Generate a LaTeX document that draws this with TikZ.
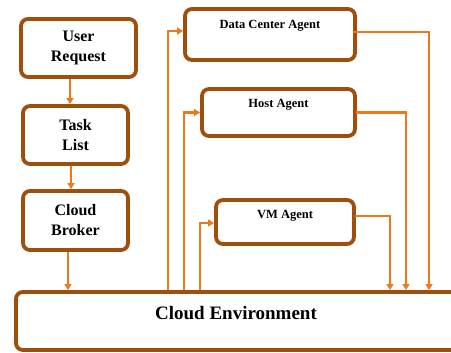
\documentclass[tikz,border=0pt]{standalone}
\usepackage{fontspec}
\setmainfont{Liberation Serif}
\usetikzlibrary{arrows.meta}
\definecolor{boxbrown}{HTML}{A04E0C}
\definecolor{lineorange}{HTML}{EC7A1C}
\tikzset{
  box/.style={draw=boxbrown, line width=3.8pt, rounded corners=7pt, fill=white, inner sep=0pt},
  lefttext/.style={font=\bfseries\fontsize{16}{20}\selectfont, align=center, text=black},
  agenttext/.style={font=\bfseries\fontsize{12.5}{15}\selectfont, text=black},
  envtext/.style={font=\bfseries\fontsize{19}{23}\selectfont, text=black},
  arr/.style={draw=lineorange, line width=2.2pt, -{Triangle[length=6pt,width=7pt]}}
}
\begin{document}
\begin{tikzpicture}[x=1pt,y=1pt]
\useasboundingbox (0,0) rectangle (451,353);
\begin{scope}
\clip (0,0) rectangle (451,353);
% left column
\node[box, minimum width=115pt, minimum height=58pt, lefttext] (ur) at (78.5,305) {User\\Request};
\node[box, minimum width=105pt, minimum height=58pt, lefttext] (tl) at (75.5,218) {Task\\List};
\node[box, minimum width=105pt, minimum height=59pt, lefttext] (cb) at (75.5,132.5) {Cloud\\Broker};
% environment
\node[box, minimum width=480pt, minimum height=58pt, anchor=west] (ce) at (14,32) {};
\node[envtext] (cet) at (236,40) {Cloud Environment};
% agents
\node[box, minimum width=170pt, minimum height=51pt] (dc) at (270,318.5) {};
\node[agenttext] (dct) at (270,327) {Data Center Agent};
\node[box, minimum width=153pt, minimum height=47pt] (ha) at (278.5,240.5) {};
\node[agenttext] (hat) at (278.5,248) {Host Agent};
\node[box, minimum width=138pt, minimum height=44pt] (vm) at (285,131) {};
\node[agenttext] (vmt) at (285,137) {VM Agent};
% x positions of vertical connectors
\coordinate (x1) at (168,0);
\coordinate (x2) at (184,0);
\coordinate (x3) at (200,0);
\coordinate (x4) at (429,0);
\coordinate (x5) at (406,0);
\coordinate (x6) at (390,0);
% left chain
\draw[arr] ([xshift=-8.5pt]ur.south) -- ([xshift=-5.5pt]tl.north);
\draw[arr] ([xshift=-4.5pt]tl.south) -- ([xshift=-4.5pt]cb.north);
\draw[arr] ([xshift=-7.5pt]cb.south) -- ([xshift=-7.5pt]cb.south |- ce.north);
% environment to agents
\draw[arr] (x1 |- ce.north) |- ([yshift=3.5pt]dc.west);
\draw[arr] (x2 |- ce.north) |- (ha.west);
\draw[arr] (x3 |- ce.north) |- ([yshift=-1pt]vm.west);
% agents to environment
\draw[arr] ([yshift=2.5pt,xshift=-4pt]dc.east) -| (x4 |- ce.north);
\draw[arr] ([xshift=-1pt]ha.east) -| (x5 |- ce.north);
\draw[arr] ([yshift=6pt,xshift=-1pt]vm.east) -| (x6 |- ce.north);
\end{scope}
\end{tikzpicture}
\end{document}
